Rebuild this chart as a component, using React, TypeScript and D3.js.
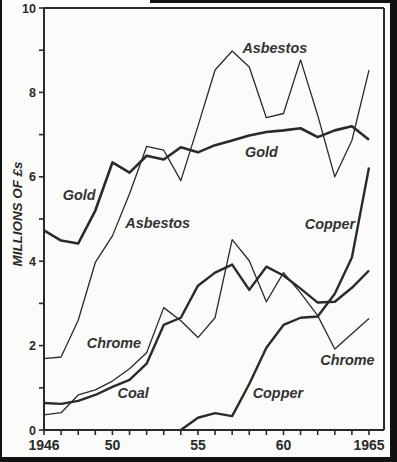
import * as d3 from 'd3';

const years = d3.range(1946, 1966);

// millions of £s
const gold = [4.73, 4.49, 4.42, 5.2, 6.34, 6.1, 6.5, 6.41, 6.7, 6.58, 6.75, 6.86, 6.98, 7.06, 7.1, 7.15, 6.94, 7.1, 7.2, 6.88];
const asbestos = [1.69, 1.73, 2.6, 3.97, 4.6, 5.6, 6.72, 6.63, 5.91, 7.2, 8.53, 8.98, 8.6, 7.4, 7.5, 8.77, 7.46, 6.0, 6.86, 8.53];
const copper = [null, null, null, null, null, null, null, null, 0, 0.29, 0.4, 0.33, 1.09, 1.95, 2.49, 2.66, 2.69, 3.23, 4.09, 6.22];
const chrome = [0.36, 0.41, 0.83, 0.95, 1.16, 1.45, 1.83, 2.9, 2.59, 2.19, 2.66, 4.51, 4.01, 3.04, 3.73, 3.25, 2.71, 1.92, 2.28, 2.64];
const coal = [0.64, 0.62, 0.69, 0.83, 1.02, 1.19, 1.57, 2.49, 2.66, 3.42, 3.73, 3.92, 3.32, 3.87, 3.66, 3.35, 3.02, 3.04, 3.37, 3.78];

const xTickLabels: [number, string][] = [[1946, '1946'], [1950, '50'], [1955, '55'], [1960, '60'], [1965, '1965']];
const yTickLabels = [0, 2, 4, 6, 8, 10];

// in-plot labels, anchored in data units (year, value)
const labels: [string, number, number][] = [
  ['Gold', 1947.1, 5.45],
  ['Asbestos', 1950.75, 4.79],
  ['Asbestos', 1957.6, 8.93],
  ['Gold', 1957.75, 6.47],
  ['Copper', 1961.25, 4.76],
  ['Chrome', 1948.5, 1.94],
  ['Coal', 1950.3, 0.76],
  ['Chrome', 1962.15, 1.54],
  ['Copper', 1958.2, 0.76],
];

const W = 397;
const H = 462;
const ink = '#2a2a2a';
const labelFont = '"Liberation Sans", Arial, sans-serif';

export default function App() {
  const x = d3.scaleLinear().domain([1946, 1965]).range([44, 369]);
  const y = d3.scaleLinear().domain([0, 10]).range([430, 8]);
  const frameRight = 384;

  const line = d3
    .line<number | null>()
    .defined((d) => d != null)
    .x((_, i) => x(years[i]))
    .y((d) => y(d as number));

  const series = [
    { id: 'asbestos', values: asbestos, w: 1.3 },
    { id: 'chrome', values: chrome, w: 1.3 },
    { id: 'coal', values: coal, w: 2.4 },
    { id: 'copper', values: copper, w: 2.4 },
    { id: 'gold', values: gold, w: 2.6 },
  ];

  return (
    <div style={{ position: 'absolute', left: 0, top: 0 }}>
      <svg width={W} height={H} style={{ display: 'block' }}>
        <rect x={0} y={0} width={W} height={H} fill="#fbfbfa" />
        {/* scan edges */}
        <rect x={0} y={0} width={2} height={H} fill="#111" />
        <rect x={150} y={0} width={W - 150} height={3} fill="#111" />
        <rect x={390} y={0} width={7} height={H} fill="#111" />
        <rect x={0} y={457} width={W} height={5} fill="#111" />

        {/* frame */}
        <line x1={x(1946)} x2={frameRight} y1={y(10)} y2={y(10)} stroke={ink} strokeWidth={2} />
        <line x1={frameRight} x2={frameRight} y1={y(10)} y2={y(0)} stroke={ink} strokeWidth={2} />
        <line x1={x(1946)} x2={frameRight} y1={y(0)} y2={y(0)} stroke={ink} strokeWidth={2} />
        <line x1={x(1946)} x2={x(1946)} y1={y(10)} y2={y(0)} stroke={ink} strokeWidth={2} />

        {/* y ticks */}
        {d3.range(0, 11).map((t) => (
          <line key={t} x1={x(1946) - 5} x2={x(1946)} y1={y(t)} y2={y(t)} stroke={ink} strokeWidth={1.6} />
        ))}
        {yTickLabels.map((t) => (
          <text
            key={t}
            x={36}
            y={y(t) + 4.5}
            textAnchor="end"
            fontFamily={labelFont}
            fontWeight="bold"
            fontSize={12.5}
            fill={ink}
          >
            {t}
          </text>
        ))}

        {/* x ticks */}
        {years.map((yr) => (
          <line key={yr} x1={x(yr)} x2={x(yr)} y1={y(0)} y2={y(0) + 5} stroke={ink} strokeWidth={1.6} />
        ))}
        {xTickLabels.map(([yr, s]) => (
          <text
            key={yr}
            x={x(yr)}
            y={450}
            textAnchor="middle"
            fontFamily={labelFont}
            fontWeight="bold"
            fontSize={14}
            fill={ink}
          >
            {s}
          </text>
        ))}

        {/* y axis title */}
        <text
          transform={`translate(22,214) rotate(-90)`}
          textAnchor="middle"
          fontFamily={labelFont}
          fontWeight="bold"
          fontStyle="italic"
          fontSize={13.4}
          fill={ink}
        >
          MILLIONS OF £s
        </text>

        {/* series */}
        {series.map((s) => (
          <path
            key={s.id}
            d={line(s.values) ?? ''}
            fill="none"
            stroke={ink}
            strokeWidth={s.w}
            strokeLinejoin="round"
          />
        ))}

        {labels.map(([txt, yr, v], i) => (
          <text
            key={i}
            x={x(yr)}
            y={y(v)}
            fontFamily={labelFont}
            fontWeight="bold"
            fontStyle="italic"
            fontSize={14.4}
            fill="#333"
          >
            {txt}
          </text>
        ))}
      </svg>
    </div>
  );
}
